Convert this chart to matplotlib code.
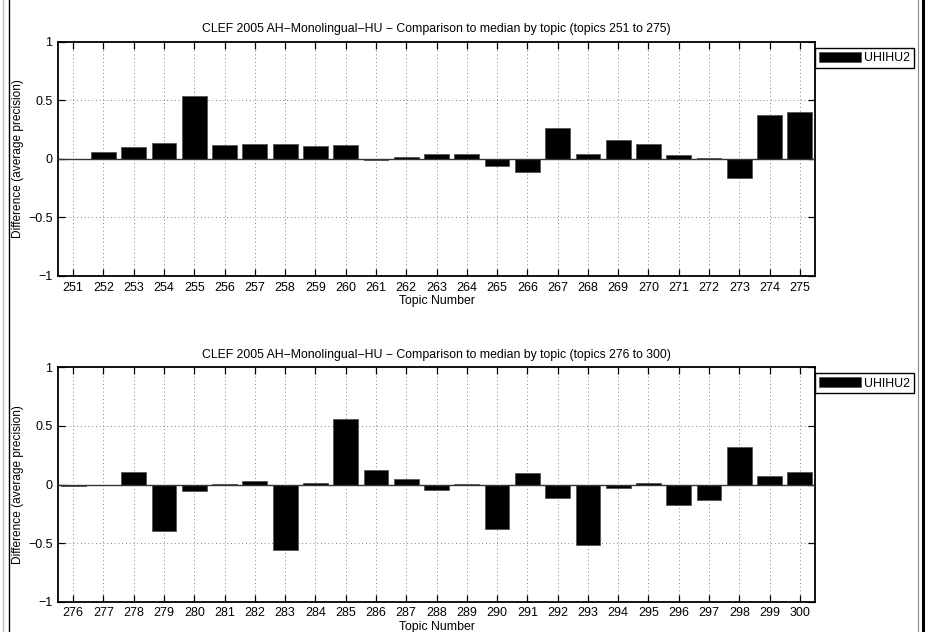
import numpy as np
import matplotlib.pyplot as plt
from matplotlib.lines import Line2D

plt.rcParams['font.family'] = ['Liberation Sans', 'DejaVu Sans']

topics_a = list(range(251, 276))
diff_a = [0.003, 0.057, 0.105, 0.139, 0.534, 0.119, 0.125, 0.131, 0.111, 0.122,
          -0.005, 0.014, 0.040, 0.043, -0.060, -0.111, 0.261, 0.043, 0.159, 0.131,
          0.034, 0.008, -0.162, 0.372, 0.400]

topics_b = list(range(276, 301))
diff_b = [-0.010, -0.005, 0.111, -0.398, -0.057, 0.008, 0.034, -0.560, 0.011, 0.557,
          0.122, 0.048, -0.048, 0.008, -0.378, 0.102, -0.119, -0.517, -0.026, 0.017,
          -0.176, -0.131, 0.324, 0.074, 0.111]

run_name = 'UHIHU2'
title_fmt = 'CLEF 2005 AH\u2212Monolingual\u2212HU \u2212 Comparison to median by topic (topics {0} to {1})'

fig = plt.figure(figsize=(9.27, 6.32), dpi=100)

def draw_panel(rect, topics, diffs):
    ax = fig.add_axes(rect)
    ax.bar(topics, diffs, width=0.82, color='black', edgecolor='#555555',
           linewidth=0.6, label=run_name, zorder=3)
    ax.axhline(0, color='#333333', linewidth=1.0, zorder=4)
    ax.set_xlim(topics[0] - 0.5, topics[-1] + 0.5)
    ax.set_ylim(-1, 1)
    ax.set_xticks(topics)
    ax.set_yticks([-1, -0.5, 0, 0.5, 1])
    ax.set_yticklabels(['\u22121', '\u22120.5', '0', '0.5', '1'])
    ax.grid(True, color='#555555', linestyle=(0, (1, 3.5)), linewidth=0.6, zorder=0)
    ax.tick_params(direction='in', length=5, width=0.9, top=True, right=True,
                   labelsize=9, pad=4)
    for s in ax.spines.values():
        s.set_linewidth(1.3)
    ax.set_title(title_fmt.format(topics[0], topics[-1]), fontsize=8.8, pad=7)
    ax.set_xlabel('Topic Number', fontsize=8.8, labelpad=1)
    ax.set_ylabel('Difference (average precision)', fontsize=8.6, labelpad=3)
    leg = ax.legend(loc='upper left', bbox_to_anchor=(1.0, 0.974), borderaxespad=0,
                    fontsize=8.9, handlelength=3.4, handleheight=0.9,
                    fancybox=False, framealpha=1, edgecolor='black',
                    borderpad=0.3, handletextpad=0.3)
    leg.get_frame().set_linewidth(1.0)
    return ax

draw_panel([0.0626, 0.5633, 0.8166, 0.3703], topics_a, diff_a)
draw_panel([0.0626, 0.0479, 0.8166, 0.3709], topics_b, diff_b)

# page border lines seen at the image edges
fig.add_artist(Line2D([3 / 927, 3 / 927], [0, 1], color='#bbbbbb', linewidth=1.0))
fig.add_artist(Line2D([9 / 927, 9 / 927], [0, 1], color='black', linewidth=1.0))
fig.add_artist(Line2D([918 / 927, 918 / 927], [0, 1], color='#888888', linewidth=0.8))
fig.add_artist(Line2D([923 / 927, 923 / 927], [0, 1], color='black', linewidth=2.2))

fig.savefig('out.png', dpi=100)
